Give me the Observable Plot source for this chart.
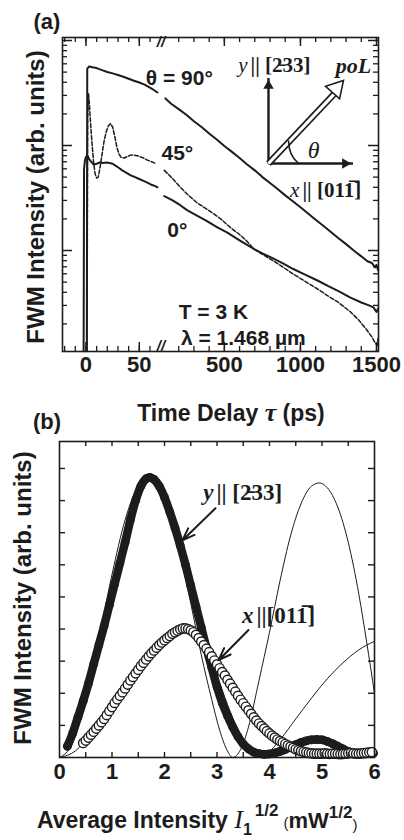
<!DOCTYPE html>
<html><head><meta charset="utf-8">
<script src="https://cdn.jsdelivr.net/npm/d3@7"></script>
<script src="https://cdn.jsdelivr.net/npm/@observablehq/plot@0.6"></script>
<style>
body{margin:0;background:#fff;}
#wrap{position:relative;width:404px;height:840px;overflow:hidden;background:#fff;}
</style></head><body><div id="wrap"></div>
<script>
const SANS = "'Liberation Sans', Arial, Helvetica, sans-serif";
const SERIF = "'Liberation Serif', 'Times New Roman', serif";
const INK = "#1c1c1c";

// ---------- Panel (a): FWM intensity vs delay (log), broken time axis ----------
const theta90_early = [[0.8,1.1],[1.2,540],[3,565],[6,556],[10,546],[15,522],[20,502],[25,486],[30,470],[35,452],[40,432],[45,414],[50,398],[55,380],[60,356],[64,336],[67,320]];
const theta90_late = [[112,281],[150,250],[200,222],[250,196],[300,170],[350,150],[400,130],[450,114],[500,99],[550,87],[600,76],[650,66],[700,58],[750,50],[800,44],[850,38.5],[900,33.5],[950,29.5],[1000,25.8],[1050,22.5],[1100,19.6],[1150,17.2],[1200,15],[1250,13.1],[1300,11.5],[1350,10],[1400,8.8],[1440,7.9],[1470,7.6],[1490,6.9],[1500,7.3],[1510,6.5]];
const theta45_early = [[1.0,1.1],[1.6,180],[2.4,313],[3.2,250],[4.2,170],[5.5,110],[7,72],[8.5,54],[10,49],[11.5,50],[13,60],[15,82],[17,110],[19,135],[21,154],[23,162],[25,150],[27,122],[29,96],[31,83],[33,77],[36,76],[39,79],[42,81],[45,81],[48,80],[51,78],[54,76],[57,73],[60,71],[63,69],[66,67]];
const theta45_late = [[105,58],[150,50],[211,40],[260,34],[320,28.5],[380,25],[428,22.5],[480,19.8],[540,16.5],[600,14.2],[650,12.2],[691,10.4],[750,9.2],[820,8.0],[888,6.9],[950,6.0],[1020,5.2],[1112,4.3],[1180,3.7],[1250,3.2],[1329,2.6],[1380,2.2],[1430,1.8],[1470,1.5],[1493,1.3],[1505,1.25],[1510,1.45]];
const theta0_early = [[-2.2,1.1],[-1.8,60],[-1,72],[0,78],[1.5,80],[3,74],[5,70],[7,66],[10,67],[13,69],[16,68],[19,69],[22,68],[25,67],[28,64],[31,61],[34,58],[38,55],[42,52],[46,50],[50,48],[54,46],[58,44],[62,42],[65,41],[67,40]];
const theta0_late = [[105,33],[160,30],[210,27],[257,24.1],[320,21.5],[380,19.3],[454,16.6],[520,14.8],[600,12.5],[691,10.4],[750,9.4],[820,8.4],[888,7.5],[950,6.7],[1020,6.0],[1112,5.18],[1180,4.6],[1250,4.1],[1329,3.56],[1400,3.2],[1450,3.0],[1480,2.87],[1500,2.6],[1510,2.8]];

const tauTickLabels = [0, 50, 500, 1000, 1500];
const tauMinorTicks = [-20,-10,0,10,20,30,40,50,60,200,300,400,500,600,700,800,900,1000,1100,1200,1300,1400,1500];
const intensityMajorTicks = [10, 100, 1000];
const intensityMinorTicks = [2,3,4,5,6,7,8,9,20,30,40,50,60,70,80,90,200,300,400,500,600,700,800,900];
const tauDomain = [-22, 68, 100, 1513];      // broken axis: early segment | late segment
const tauBreak = 84;
const intensityDomain = [1.092, 1068];

const curveLabelsA = [
  {tau: 204, v: 434, text: "θ = 90°"},
  {tau: 191, v: 84, text: "45°"},
  {tau: 191, v: 15.5, text: "0°"},
  {tau: 428, v: 2.57, text: "T = 3 K"},
  {tau: 625, v: 1.45, text: "λ = 1.468 µm"}
];
const insetLabelsA = [
  {tau: 672, v: 578, italic: "y", rest: "|| [2\u033533]"},
  {tau: 1013, v: 37.3, italic: "x", rest: "|| [011\u0305]"}
];
const insetPol = [{tau: 1349, v: 578, text: "poL"}];
const insetTheta = [{tau: 1086, v: 89.6, text: "θ"}];
const insetAxes = [
  {tau1: 790, v1: 67.4, tau2: 790, v2: 440, rot: 0},
  {tau1: 790, v1: 67.4, tau2: 1345, v2: 67.4, rot: 90}
];
const insetPolArrow = [{tau1: 790, v1: 67.4, tau2: 1283, v2: 417, shaftTau: 1240, shaftV: 330}];
const insetArc = [{tau1: 987, v1: 67.4, tau2: 922, v2: 110}];

const rowsA = [];
function addA(name, seg, pts){ for (const [tau, v] of pts) rowsA.push({name, seg, tau, v}); }
addA("90","e",theta90_early); addA("90","l",theta90_late);
addA("45","e",theta45_early); addA("45","l",theta45_late);
addA("0","e",theta0_early); addA("0","l",theta0_late);

const FWA = 404-62-26, FHA = 351-37;
const txt = (o) => Object.assign({fill: INK, fontFamily: SANS, fontWeight: "bold", fontSize: 21}, o);

const svgA = Plot.plot({
  width: 404, height: 430,
  marginLeft: 62, marginRight: 26, marginTop: 37, marginBottom: 79,
  x: {type: "linear", domain: tauDomain, range: [62, 158, 163, 378], axis: null},
  y: {type: "log", domain: intensityDomain, axis: null},
  marks: [
    Plot.line(rowsA.filter(d => d.name === "90"), {x: "tau", y: "v", z: "seg", stroke: INK, strokeWidth: 2}),
    Plot.line(rowsA.filter(d => d.name === "0"), {x: "tau", y: "v", z: "seg", stroke: INK, strokeWidth: 2}),
    Plot.line(rowsA.filter(d => d.name === "45"), {x: "tau", y: "v", z: "seg", stroke: INK, strokeWidth: 1.5, strokeDasharray: "4,2"}),
    // ticks inward, all four sides
    Plot.tickX(tauMinorTicks, {x: d => d, insetTop: FHA - 5, stroke: INK, strokeWidth: 1.3}),
    Plot.tickX(tauMinorTicks, {x: d => d, insetBottom: FHA - 5, stroke: INK, strokeWidth: 1.3}),
    Plot.tickX(tauTickLabels, {x: d => d, insetTop: FHA - 9, stroke: INK, strokeWidth: 1.5}),
    Plot.tickX(tauTickLabels, {x: d => d, insetBottom: FHA - 9, stroke: INK, strokeWidth: 1.5}),
    Plot.tickY(intensityMinorTicks, {y: d => d, insetRight: FWA - 5, stroke: INK, strokeWidth: 1.3}),
    Plot.tickY(intensityMinorTicks, {y: d => d, insetLeft: FWA - 5, stroke: INK, strokeWidth: 1.3}),
    Plot.tickY(intensityMajorTicks, {y: d => d, insetRight: FWA - 10, stroke: INK, strokeWidth: 1.5}),
    Plot.tickY(intensityMajorTicks, {y: d => d, insetLeft: FWA - 10, stroke: INK, strokeWidth: 1.5}),
    Plot.frame({stroke: INK, strokeWidth: 1.6}),
    Plot.text(["//"], txt({x: () => tauBreak, frameAnchor: "top", fontSize: 15, fontStyle: "italic", dy: -1})),
    Plot.text(["//"], txt({x: () => tauBreak, frameAnchor: "bottom", fontSize: 15, fontStyle: "italic", dy: -1})),
    Plot.text(tauTickLabels, txt({x: d => d, text: d => String(d), frameAnchor: "bottom", dy: 20, fontSize: 22})),
    Plot.text(curveLabelsA, txt({x: "tau", y: "v", text: "text"})),
    // inset polarization diagram
    Plot.link(insetAxes, {x1: "tau1", y1: "v1", x2: "tau2", y2: "v2", stroke: INK, strokeWidth: 2.4}),
    Plot.dot(insetAxes.filter(d => d.rot === 0), {x: "tau2", y: "v2", symbol: "triangle2", r: 5, fill: INK, dy: 7.8}),
    Plot.dot(insetAxes.filter(d => d.rot === 90), {x: "tau2", y: "v2", symbol: "triangle2", r: 5, fill: INK, rotate: 90, dx: -7.8}),
    Plot.link(insetPolArrow, {x1: "tau1", y1: "v1", x2: "shaftTau", y2: "shaftV", stroke: INK, strokeWidth: 6.5}),
    Plot.link(insetPolArrow, {x1: "tau1", y1: "v1", x2: "shaftTau", y2: "shaftV", stroke: "white", strokeWidth: 3.2, insetStart: 4}),
    Plot.dot(insetPolArrow, {x: "tau2", y: "v2", symbol: "triangle", r: 7, fill: "white", stroke: INK, strokeWidth: 1.6, rotate: 42, dx: -7.3, dy: 8.1}),
    Plot.arrow(insetArc, {x1: "tau1", y1: "v1", x2: "tau2", y2: "v2", bend: 24, headLength: 0, stroke: INK, strokeWidth: 1.6}),
    Plot.text(insetLabelsA, {x: "tau", y: "v", text: "italic", textAnchor: "end", dx: -3, fontFamily: SERIF, fontStyle: "italic", fontSize: 21, fill: INK}),
    Plot.text(insetLabelsA, {x: "tau", y: "v", text: "rest", textAnchor: "start", fontFamily: SERIF, fontWeight: "bold", fontSize: 21, fill: INK}),
    Plot.text(insetPol, {x: "tau", y: "v", text: "text", fontFamily: SERIF, fontStyle: "italic", fontWeight: "bold", fontSize: 22, fill: INK}),
    Plot.text(insetTheta, {x: "tau", y: "v", text: "text", fontFamily: SERIF, fontStyle: "italic", fontSize: 24, fill: INK})
  ]
});

// ---------- Panel (b): FWM intensity vs sqrt(average intensity) ----------
const yPolData = [[0.15,0.35],[0.25,0.75],[0.35,1.25],[0.45,1.75],[0.55,2.3],[0.65,2.9],[0.75,3.5],[0.85,4.1],[0.95,4.75],[1.05,5.4],[1.15,6.05],[1.25,6.7],[1.35,7.4],[1.45,8.0],[1.55,8.45],[1.65,8.68],[1.72,8.72],[1.8,8.66],[1.9,8.45],[2.0,8.1],[2.1,7.65],[2.2,7.15],[2.3,6.6],[2.4,6.0],[2.5,5.35],[2.6,4.7],[2.7,4.05],[2.8,3.4],[2.9,2.8],[3.0,2.2],[3.1,1.7],[3.2,1.3],[3.3,0.95],[3.4,0.65],[3.5,0.42],[3.6,0.27],[3.7,0.17],[3.8,0.12],[3.9,0.1],[4.0,0.11],[4.1,0.14],[4.2,0.19],[4.3,0.25],[4.4,0.33],[4.5,0.4],[4.6,0.47],[4.7,0.52],[4.8,0.55],[4.9,0.56],[5.0,0.55],[5.1,0.5],[5.2,0.43],[5.3,0.35],[5.4,0.27],[5.5,0.19],[5.6,0.13],[5.7,0.11],[5.8,0.11],[5.9,0.12],[5.98,0.13]];
const xPolData = [[0.45,0.45],[0.5,0.53],[0.55,0.62],[0.6,0.71],[0.65,0.8],[0.7,0.9],[0.75,1.0],[0.8,1.1],[0.85,1.2],[0.9,1.32],[0.95,1.45],[1.0,1.57],[1.05,1.7],[1.1,1.81],[1.15,1.92],[1.2,2.03],[1.25,2.15],[1.3,2.27],[1.35,2.4],[1.4,2.51],[1.45,2.62],[1.5,2.73],[1.55,2.85],[1.6,2.95],[1.65,3.05],[1.7,3.15],[1.75,3.25],[1.8,3.33],[1.85,3.42],[1.9,3.5],[1.95,3.58],[2.0,3.65],[2.05,3.72],[2.1,3.78],[2.15,3.85],[2.2,3.9],[2.25,3.95],[2.3,3.99],[2.35,4.02],[2.4,4.02],[2.45,4.0],[2.5,3.96],[2.55,3.9],[2.6,3.82],[2.65,3.72],[2.7,3.61],[2.75,3.5],[2.8,3.39],[2.85,3.28],[2.9,3.15],[2.95,3.02],[3.0,2.9],[3.05,2.78],[3.1,2.66],[3.15,2.55],[3.2,2.42],[3.25,2.3],[3.3,2.17],[3.35,2.05],[3.4,1.92],[3.45,1.8],[3.5,1.69],[3.55,1.58],[3.6,1.47],[3.65,1.36],[3.7,1.25],[3.75,1.15],[3.8,1.06],[3.85,0.98],[3.9,0.9],[3.95,0.82],[4.0,0.75],[4.05,0.68],[4.1,0.62],[4.15,0.56],[4.2,0.51],[4.25,0.47],[4.3,0.42],[4.35,0.38],[4.4,0.34],[4.45,0.3],[4.5,0.26],[4.55,0.23],[4.6,0.2],[4.65,0.18],[4.7,0.16],[4.75,0.14],[4.8,0.13],[4.85,0.12],[4.9,0.12],[4.95,0.12],[5.0,0.12],[5.05,0.13],[5.1,0.12],[5.15,0.11],[5.2,0.12],[5.25,0.12],[5.3,0.11],[5.35,0.1],[5.4,0.11],[5.45,0.12],[5.5,0.13],[5.55,0.14],[5.6,0.13],[5.65,0.12],[5.7,0.12],[5.75,0.13],[5.8,0.14],[5.85,0.15],[5.9,0.16],[5.95,0.17]];
const yPolFit = [[0,0],[0.25,0.45],[0.5,1.8],[0.75,3.7],[1.0,5.7],[1.25,7.4],[1.5,8.45],[1.7,8.7],[1.9,8.45],[2.1,7.6],[2.3,6.3],[2.5,4.8],[2.7,3.2],[2.9,1.8],[3.05,0.85],[3.2,0.2],[3.3,0.0],[3.45,0.25],[3.6,0.95],[3.8,2.4],[4.0,3.9],[4.2,5.5],[4.4,6.9],[4.6,7.9],[4.8,8.45],[4.95,8.55],[5.1,8.4],[5.3,7.8],[5.5,6.7],[5.7,5.1],[5.85,3.6],[6.0,2.0]];
const xPolFit = [[0,0],[0.3,0.2],[0.6,0.75],[0.9,1.45],[1.2,2.2],[1.5,2.9],[1.8,3.45],[2.1,3.85],[2.35,4.0],[2.6,3.85],[2.8,3.35],[3.0,2.55],[3.2,1.65],[3.4,0.85],[3.55,0.35],[3.7,0.08],[3.8,0.0],[3.95,0.12],[4.2,0.55],[4.5,1.2],[4.8,1.85],[5.1,2.45],[5.4,2.95],[5.7,3.35],[6.0,3.62]];

const sqrtITickLabels = [0,1,2,3,4,5,6];
const sqrtIMinorTicks = [0.5,1,1.5,2,2.5,3,3.5,4,4.5,5,5.5];
const fwmTicksB = [1,2,3,4,5,6,7,8,9];
const sqrtIDomain = [0, 6];
const fwmDomainB = [0, 9.84];

const labelsB = [
  {x: 2.99, y: 8.26, italic: "y", rest: "|| [2\u033533]"},
  {x: 3.75, y: 4.42, italic: "x", rest: "||[011\u0305]"}
];
const arrowsB = [
  {x1: 2.97, y1: 7.76, x2: 2.34, y2: 6.76},
  {x1: 3.6, y1: 3.97, x2: 3.03, y2: 3.03}
];

const toXY = pts => pts.map(([x, y]) => ({x, y}));
const FWB = 404-59-30, FHB = 440-41-83;

const svgB = Plot.plot({
  width: 404, height: 440,
  marginLeft: 59, marginRight: 30, marginTop: 41, marginBottom: 83,
  x: {domain: sqrtIDomain, axis: null},
  y: {domain: fwmDomainB, axis: null},
  marks: [
    Plot.line(toXY(yPolFit), {x: "x", y: "y", stroke: INK, strokeWidth: 1, curve: "monotone-x"}),
    Plot.line(toXY(xPolFit), {x: "x", y: "y", stroke: INK, strokeWidth: 1, curve: "monotone-x"}),
    Plot.line(toXY(yPolData), {x: "x", y: "y", stroke: INK, strokeWidth: 8.5, curve: "monotone-x"}),
    Plot.dot(toXY(yPolData), {x: "x", y: "y", r: 4.4, fill: INK}),
    Plot.dot(toXY(xPolData), {x: "x", y: "y", r: 4.6, fill: "white", stroke: INK, strokeWidth: 1.4}),
    Plot.tickX(sqrtIMinorTicks, {x: d => d, insetTop: FHB - 5, stroke: INK, strokeWidth: 1.4}),
    Plot.tickX(sqrtIMinorTicks, {x: d => d, insetBottom: FHB - 5, stroke: INK, strokeWidth: 1.4}),
    Plot.tickY(fwmTicksB, {y: d => d, insetRight: FWB - 6, stroke: INK, strokeWidth: 1.4}),
    Plot.tickY(fwmTicksB, {y: d => d, insetLeft: FWB - 6, stroke: INK, strokeWidth: 1.4}),
    Plot.frame({stroke: INK, strokeWidth: 1.6}),
    Plot.text(sqrtITickLabels, txt({x: d => d, text: d => String(d), frameAnchor: "bottom", dy: 21, fontSize: 22})),
    Plot.arrow(arrowsB, {x1: "x1", y1: "y1", x2: "x2", y2: "y2", stroke: INK, strokeWidth: 2, headLength: 10, headAngle: 40}),
    Plot.text(labelsB, {x: "x", y: "y", text: "italic", textAnchor: "end", dx: -3, fontFamily: SERIF, fontStyle: "italic", fontWeight: "bold", fontSize: 23, fill: INK}),
    Plot.text(labelsB, {x: "x", y: "y", text: "rest", textAnchor: "start", fontFamily: SERIF, fontWeight: "bold", fontSize: 23, fill: INK})
  ]
});

const wrap = document.getElementById("wrap");
for (const [svg, top] of [[svgA, 0], [svgB, 400]]) {
  svg.style.position = "absolute";
  svg.style.left = "0px";
  svg.style.top = top + "px";
  svg.style.background = "transparent";
  svg.style.overflow = "visible";
  svg.style.maxWidth = "none";
  wrap.appendChild(svg);
}

// titles (rich text) added into the Plot SVGs
function title(svg, x, y, rot, anchor = "middle") {
  const t = d3.select(svg).append("text")
    .attr("fill", INK).attr("font-family", SANS).attr("font-weight", "bold")
    .attr("text-anchor", anchor);
  if (rot) t.attr("transform", `translate(${x},${y}) rotate(-90)`).attr("dominant-baseline", "central");
  else t.attr("x", x).attr("y", y);
  return t;
}
title(svgA, 47, 29).attr("font-size", 22).text("(a)");
title(svgA, 35, 197, true).attr("font-size", 24).text("FWM Intensity (arb. units)");
{
  const t = title(svgA, 231, 421).attr("font-size", 23);
  t.append("tspan").text("Time Delay ");
  t.append("tspan").attr("font-family", SERIF).attr("font-style", "italic").attr("font-size", 26).text("τ");
  t.append("tspan").text(" (ps)");
}
title(svgB, 47, 29).attr("font-size", 22).text("(b)");
title(svgB, 22, 198, true).attr("font-size", 24).text("FWM Intensity (arb. units)");
{
  const t = title(svgB, 37, 428, false, "start").attr("font-size", 23);
  t.append("tspan").text("Average Intensity ");
  t.append("tspan").attr("font-family", SERIF).attr("font-style", "italic").attr("font-weight", "normal").attr("font-size", 26).text("I");
  t.append("tspan").attr("font-size", 16).attr("dy", 7).text("1");
  t.append("tspan").attr("font-size", 17).attr("dy", -19).attr("dx", 3).text("1/2");
  t.append("tspan").attr("font-size", 15).attr("font-weight", "normal").attr("dy", 12).attr("dx", 5).text("(");
  t.append("tspan").attr("font-size", 22).text("mW");
  t.append("tspan").attr("font-size", 17).attr("dy", -10).text("1/2");
  t.append("tspan").attr("font-size", 15).attr("font-weight", "normal").attr("dy", 12).text(")");
}
</script></body></html>
